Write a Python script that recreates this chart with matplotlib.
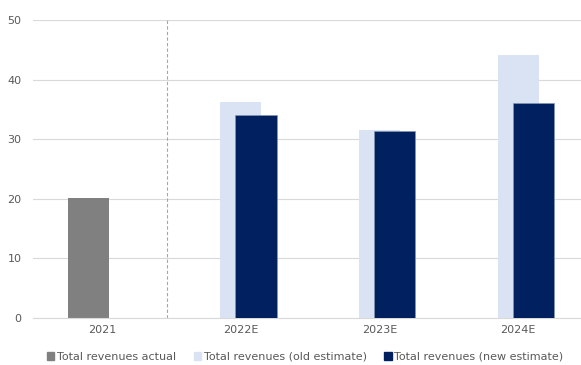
import matplotlib.pyplot as plt
import numpy as np
from matplotlib.patches import Patch

years = ["2021", "2022E", "2023E", "2024E"]
actual = [20.1, 0, 0, 0]
old_estimate = [0, 36.2, 31.5, 44.1]
new_estimate = [0, 34.0, 31.4, 36.0]

c_actual = "#808080"
c_old = "#dae3f3"
c_new = "#002060"
txt = "#595959"

plt.rcParams["font.family"] = ["DejaVu Sans"]

fig = plt.figure(figsize=(5.81, 3.65), dpi=100)
ax = fig.add_axes([0.0563, 0.1288, 0.9437, 0.8164])

x = np.arange(len(years))
w = 0.297
ax.bar(x - 0.10, actual, w, color=c_actual, zorder=2)
ax.bar(x, old_estimate, w, color=c_old, zorder=2)
ax.bar(x + 0.11, new_estimate, w, color=c_new, edgecolor="#8497b0", linewidth=0.5, zorder=3)

# separator between actual and estimates
ax.axvline(0.47, color="#a6a6a6", linestyle=(0, (3, 2)), linewidth=0.8, zorder=1)

ax.set_ylim(0, 50)
ax.set_xlim(-0.5, 3.453)
ax.set_yticks(range(0, 51, 10))
ax.set_xticks(x)
ax.set_xticklabels(years)
ax.grid(axis="y", color="#d9d9d9", linewidth=0.8, zorder=0)
ax.set_axisbelow(True)
for s in ["top", "right", "left"]:
    ax.spines[s].set_visible(False)
ax.spines["bottom"].set_color("#d9d9d9")
ax.tick_params(length=0, labelsize=8, colors=txt)
ax.tick_params(axis="y", pad=8)
ax.tick_params(axis="x", pad=5)

handles = [Patch(color=c_actual), Patch(color=c_old), Patch(color=c_new)]
labels = ["Total revenues actual", "Total revenues (old estimate)", "Total revenues (new estimate)"]
leg = fig.legend(handles, labels, loc="center", bbox_to_anchor=(0.525, 0.022), ncol=3,
                 frameon=False, fontsize=8, handlelength=0.7, handleheight=0.7,
                 handletextpad=0.2, columnspacing=1.6, labelcolor=txt)

fig.savefig("out.png", dpi=100)
